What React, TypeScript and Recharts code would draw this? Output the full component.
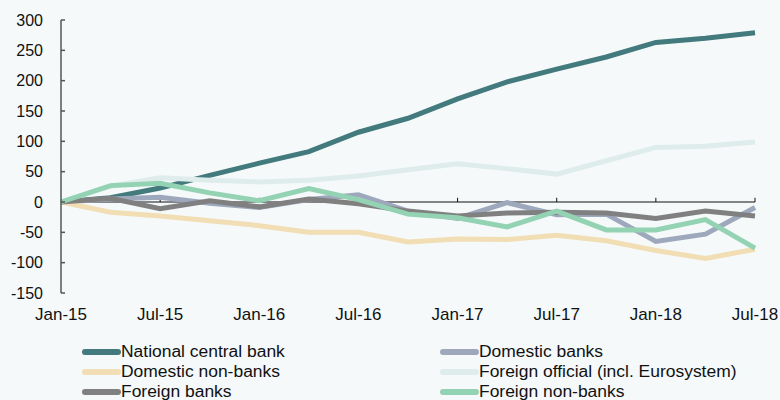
import { LineChart, Line, XAxis, YAxis, ReferenceLine, Legend } from 'recharts'

const dates = [
	'Jan-15', 'Apr-15', 'Jul-15', 'Oct-15',
	'Jan-16', 'Apr-16', 'Jul-16', 'Oct-16',
	'Jan-17', 'Apr-17', 'Jul-17', 'Oct-17',
	'Jan-18', 'Apr-18', 'Jul-18',
]

const nationalCentralBank = [0, 7, 23, 44, 64, 83, 115, 138, 170, 198, 219, 239, 263, 270, 279]
const domesticBanks = [0, 5, 8, -2, -9, 4, 12, -15, -27, -1, -21, -20, -65, -53, -9]
const domesticNonBanks = [0, -17, -23, -31, -39, -50, -50, -66, -61, -62, -55, -64, -80, -93, -78]
const foreignOfficial = [0, 26, 40, 36, 33, 36, 43, 53, 63, 55, 46, 68, 90, 92, 99]
const foreignBanks = [0, 6, -11, 2, -8, 5, -3, -15, -23, -18, -17, -18, -27, -15, -23]
const foreignNonBanks = [0, 27, 31, 15, 2, 22, 4, -20, -26, -41, -15, -46, -46, -29, -76]

const yTicks = [-150, -100, -50, 0, 50, 100, 150, 200, 250, 300]

const series = [
	{ key: 'ncb', name: 'National central bank', color: '#427A7D', values: nationalCentralBank },
	{ key: 'db', name: 'Domestic banks', color: '#9EA8BD', values: domesticBanks },
	{ key: 'dnb', name: 'Domestic non-banks', color: '#F1DEB5', values: domesticNonBanks },
	{ key: 'fo', name: 'Foreign official (incl. Eurosystem)', color: '#DEECEC', values: foreignOfficial },
	{ key: 'fb', name: 'Foreign banks', color: '#808080', values: foreignBanks },
	{ key: 'fnb', name: 'Foreign non-banks', color: '#93D2B2', values: foreignNonBanks },
]

const data = dates.map((date, i) => {
	const row: Record<string, string | number> = { date }
	series.forEach((s) => {
		row[s.key] = s.values[i]
	})
	return row
})

const font = '"Liberation Sans", Arial, sans-serif'

const YTick = (props: any) => {
	const { x, y, payload } = props
	return (
		<g>
			<line x1={x} x2={x + 4} y1={y} y2={y} stroke="#555" strokeWidth={1.5} />
			<text x={x - 18} y={y} dy="0.35em" textAnchor="end" fontSize={16} fontFamily={font} fill="#111">
				{payload.value}
			</text>
		</g>
	)
}

// legend text in the original is a touch wider than plain 16px, so stretch it a bit
const LegendBox = () => (
	<div style={{ position: 'relative', width: 780, height: 67 }}>
		{series.map((s, i) => (
			<div
				key={s.key}
				style={{
					position: 'absolute',
					left: i % 2 === 0 ? 82 : 440,
					top: 9 + Math.floor(i / 2) * 20,
					height: 20,
					display: 'flex',
					alignItems: 'center',
					fontFamily: font,
					fontSize: 16,
					color: '#111',
					whiteSpace: 'nowrap',
				}}
			>
				<span style={{ display: 'inline-block', width: 39, height: 6, borderRadius: 3, background: s.color }} />
				<span style={{ display: 'inline-block', transform: 'scaleX(1.09)', transformOrigin: 'left center' }}>
					{s.name}
				</span>
			</div>
		))}
	</div>
)

export default function App() {
	const zeroTicks = dates.filter((_, i) => i > 0 && i % 2 === 0)
	return (
		<div style={{ position: 'absolute', left: 0, top: 0, width: 780, height: 400, background: '#F5F9FA', overflow: 'hidden' }}>
			<LineChart width={780} height={400} data={data} margin={{ top: 20, right: 25, left: 0, bottom: 0 }}>
				<XAxis
					dataKey="date"
					interval={1}
					axisLine={false}
					tickLine={false}
					tickSize={0}
					tickMargin={15}
					height={40}
					tick={{ fill: '#111', fontSize: 17, fontFamily: font }}
				/>
				<YAxis
					domain={[-150, 300]}
					ticks={yTicks}
					width={61}
					tickSize={0}
					tickMargin={0}
					axisLine={{ stroke: '#555', strokeWidth: 1.5 }}
					tickLine={false}
					tick={<YTick />}
				/>
				<ReferenceLine y={0} stroke="#111" strokeWidth={1.2} />
				{zeroTicks.map((d) => (
					<ReferenceLine key={d} segment={[{ x: d, y: 0 }, { x: d, y: 7 }]} stroke="#111" strokeWidth={1} />
				))}
				<Legend verticalAlign="bottom" height={67} content={<LegendBox />} wrapperStyle={{ left: 0, width: 780 }} />
				{series.map((s) => (
					<Line
						key={s.key}
						dataKey={s.key}
						name={s.name}
						stroke={s.color}
						strokeWidth={5}
						dot={false}
						type="linear"
						isAnimationActive={false}
					/>
				))}
			</LineChart>
		</div>
	)
}
